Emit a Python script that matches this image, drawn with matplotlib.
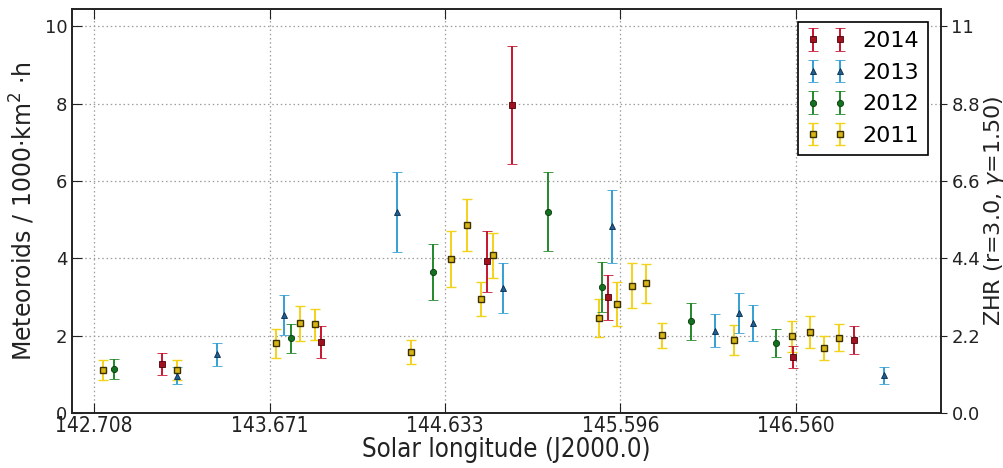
import matplotlib
matplotlib.use("Agg")
import matplotlib.pyplot as plt

# ---- data ----
x_2011 = [142.756, 143.165, 143.707, 143.838, 143.919, 144.447, 144.667, 144.753, 144.831, 144.897,
          145.479, 145.578, 145.658, 145.737, 145.823, 146.218, 146.536, 146.635, 146.715, 146.794]
y_2011 = [1.11, 1.11, 1.80, 2.32, 2.30, 1.57, 3.98, 4.87, 2.95, 4.08,
          2.45, 2.82, 3.29, 3.35, 2.01, 1.89, 1.98, 2.10, 1.69, 1.95]
e_2011 = [0.25, 0.25, 0.37, 0.45, 0.40, 0.31, 0.73, 0.67, 0.44, 0.58,
          0.49, 0.57, 0.58, 0.50, 0.32, 0.38, 0.41, 0.41, 0.31, 0.35]

x_2012 = [142.819, 143.791, 144.566, 145.201, 145.497, 145.982, 146.448]
y_2012 = [1.14, 1.93, 3.64, 5.21, 3.26, 2.37, 1.81]
e_2012 = [0.25, 0.38, 0.73, 1.03, 0.65, 0.47, 0.36]

x_2013 = [143.162, 143.381, 143.752, 144.369, 144.954, 145.550, 146.115, 146.249, 146.322, 147.043]
y_2013 = [0.96, 1.52, 2.54, 5.20, 3.23, 4.83, 2.13, 2.58, 2.32, 0.97]
e_2013 = [0.22, 0.30, 0.52, 1.03, 0.65, 0.94, 0.43, 0.52, 0.47, 0.22]

x_2014 = [143.079, 143.954, 144.864, 145.003, 145.527, 146.545, 146.880]
y_2014 = [1.27, 1.83, 3.92, 7.97, 2.99, 1.45, 1.89]
e_2014 = [0.28, 0.41, 0.79, 1.53, 0.59, 0.29, 0.36]

x_ticks = [142.708, 143.671, 144.633, 145.596, 146.560]
x_ticklabels = ["142.708", "143.671", "144.633", "145.596", "146.560"]
y_ticks = [0, 2, 4, 6, 8, 10]
zhr_ticks = [0.0, 2.2, 4.4, 6.6, 8.8, 11.0]
zhr_ticklabels = ["0.0", "2.2", "4.4", "6.6", "8.8", "11"]

fig = plt.figure(figsize=(10.04, 4.68), dpi=100)
ax = fig.add_axes([72/1004, 1 - 413/468, (941-72)/1004, (413-9)/468])

series = [
    ("2011", x_2011, y_2011, e_2011, "s", "#f3d21a", "#d8b414", "#3a3000", 4.2, 1.0),
    ("2012", x_2012, y_2012, e_2012, "o", "#23882a", "#137020", "#0a3a0a", 4.5, 0.6),
    ("2013", x_2013, y_2013, e_2013, "^", "#34a0d4", "#1d5f95", "#0a2a44", 5.0, 0.6),
    ("2014", x_2014, y_2014, e_2014, "s", "#c8142e", "#a0101f", "#4a0008", 4.2, 0.6),
]
handles = {}
for label, xs, ys, es, mk, ecol, fcol, edcol, ms, mew in series:
    h = ax.errorbar(xs, ys, yerr=es, fmt=mk, color=ecol, ecolor=ecol,
                    markerfacecolor=fcol, markeredgecolor=edcol, markeredgewidth=mew,
                    markersize=ms, elinewidth=1.4, capsize=3.5, capthick=1.0, label=label)
    handles[label] = h

ax.set_xlim(142.587, 147.355)
ax.set_ylim(0, 10.45)
ax.set_xticks(x_ticks)
ax.set_xticklabels(x_ticklabels, fontstretch="condensed", fontsize=15)
ax.set_yticks(y_ticks)
ax.grid(True, color="0.62", linestyle=(0, (1.2, 2.2)), linewidth=0.9)
ax.tick_params(axis="both", direction="in", length=7, labelsize=13, top=True, right=False, colors="#222222")
ax.tick_params(axis="x", pad=2, labelsize=15)
for s in ax.spines.values():
    s.set_linewidth(1.2)
    s.set_color("#222222")

ax.set_xlabel("Solar longitude (J2000.0)", fontsize=18.5, fontstretch="condensed", labelpad=1, color="#222222")
ax.set_ylabel(r"Meteoroids / 1000$\cdot$km$^2$ $\cdot$h", fontsize=17, labelpad=5, color="#222222")

ax2 = ax.twinx()
ax2.set_ylim(0, 10.45 * 1.1)
ax2.set_yticks(zhr_ticks)
ax2.set_yticklabels(zhr_ticklabels)
ax2.tick_params(axis="y", direction="out", length=4, labelsize=13, colors="#222222")
ax2.set_ylabel(r"ZHR (r=3.0, $\gamma$=1.50)", fontsize=16, labelpad=1, color="#222222")
for s in ax2.spines.values():
    s.set_linewidth(1.2)
    s.set_color("#222222")

order = ["2014", "2013", "2012", "2011"]
leg = ax2.legend([handles[k] for k in order], order, loc="upper right", numpoints=2,
                 fontsize=16, fancybox=False, framealpha=1, edgecolor="black",
                 borderpad=0.4, handlelength=1.8, handletextpad=0.7, labelspacing=0.52,
                 borderaxespad=0.6)
leg.get_frame().set_linewidth(1.2)

fig.savefig("out.png", dpi=100, facecolor="white")
